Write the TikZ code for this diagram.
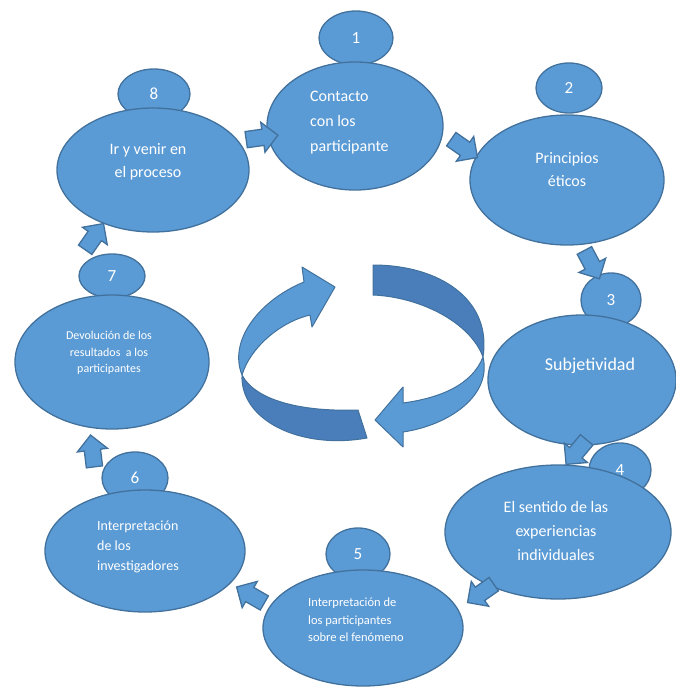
\documentclass[tikz,border=0pt]{standalone}
\usepackage{fontspec}
\setmainfont{Carlito}
\usetikzlibrary{shapes.geometric,shapes.arrows}
\definecolor{cyclefill}{HTML}{5B9BD5}
\definecolor{cycleline}{HTML}{41719C}
\definecolor{cycledark}{HTML}{4A7EBB}

\begin{document}
\begin{tikzpicture}[x=1pt,y=-1pt,
			bubble/.style={ellipse, draw=cycleline, fill=cyclefill, line width=1.3pt, inner sep=0pt},
			numtag/.style={bubble, text=white, font=\fontsize{17}{17}\selectfont},
			bigtxt/.style={text=white, inner sep=0pt, font=\fontsize{16}{24}\selectfont},
			smalltxt/.style={text=white, inner sep=0pt, font=\fontsize{12.5}{17.5}\selectfont},
			push/.style={single arrow, draw=cycleline, fill=cyclefill, line width=1.3pt, minimum height=32pt, minimum width=0pt, text height=7.5pt, text depth=7.5pt, single arrow head extend=7pt, inner sep=0pt},
			ribbon/.style={draw=cycleline, line width=1pt, line join=round}
		]
		\useasboundingbox (0,0) rectangle (675,687);

		% number tags behind the bubbles
		\node[numtag, minimum width=74pt, minimum height=54pt] (n1) at (356,38)  {1};
		\node[numtag, minimum width=66pt, minimum height=50pt] (n2) at (569,88)  {2};
		\node[numtag, minimum width=60pt, minimum height=54pt] (n3) at (611,300) {3};
		\node[numtag, minimum width=62pt, minimum height=54pt] (n4) at (620,470) {4};
		\node[numtag, minimum width=64pt, minimum height=52pt] (n5) at (358,554) {5};
		\node[numtag, minimum width=66pt, minimum height=52pt] (n6) at (135,478) {6};
		\node[numtag, minimum width=66pt, minimum height=44pt] (n7) at (112,276) {7};
		\node[numtag, minimum width=72pt, minimum height=50pt] (n8) at (154,94)  {8};

		% bubbles
		\node[bubble, minimum width=176pt, minimum height=128pt] (b1) at (355,126) {};
		\node[bubble, minimum width=194pt, minimum height=130pt] (b2) at (567,180) {};
		\node[bubble, minimum width=188pt, minimum height=130pt] (b3) at (582,380) {};
		\node[bubble, minimum width=226pt, minimum height=134pt] (b4) at (558,532) {};
		\node[bubble, minimum width=200pt, minimum height=116pt] (b5) at (363,628) {};
		\node[bubble, minimum width=200pt, minimum height=122pt] (b6) at (145,551) {};
		\node[bubble, minimum width=194pt, minimum height=134pt] (b7) at (112,362) {};
		\node[bubble, minimum width=192pt, minimum height=124pt] (b8) at (153,170) {};

		% texts
		\node[bigtxt, align=left, anchor=west, font=\fontsize{16}{25}\selectfont] (t1) at (310,123) {Contacto\\con los\\participante};
		\node[bigtxt, align=center, font=\fontsize{16}{23}\selectfont] (t2) at (567,170) {Principios\\éticos};
		\node[bigtxt, font=\fontsize{18}{18}\selectfont] (t3) at (590,366) {Subjetividad};
		\node[bigtxt, align=center] (t4) at (556,531) {El sentido de las\\experiencias\\individuales};
		\node[smalltxt, align=left, anchor=west] (t5) at (308,620) {Interpretación de\\los participantes\\sobre el fenómeno};
		\node[bigtxt, align=left, anchor=west, font=\fontsize{14}{20}\selectfont] (t6) at (97,547) {Interpretación\\de los\\investigadores};
		\node[smalltxt, align=center, font=\fontsize{12}{16.5}\selectfont] (t7) at (109,353) {Devolución de los\\resultados\ \ a los\\participantes};
		\node[bigtxt, align=center, font=\fontsize{16}{23}\selectfont] (t8) at (148,162) {Ir y venir en\\el proceso};

		% arrows between the steps
		\node[push, rotate=8]    (a81) at (258,138) {};
		\node[push, rotate=-35]  (a12) at (461,146) {};
		\node[push, rotate=-62]  (a23) at (590,261) {};
		\node[push, rotate=-130] (a34) at (579,449) {};
		\node[push, rotate=-145] (a45) at (484,591) {};
		\node[push, rotate=150]  (a56) at (254,597) {};
		\node[push, rotate=97]   (a67) at (93,455)  {};
		\node[push, rotate=55]   (a78) at (92,240)  {};

		% centre cycle
		\filldraw[ribbon, fill=cycledark] (242,375) .. controls (240,420) and (300,450) .. (367,438)
			-- (358,410) .. controls (300,412) and (255,400) .. (242,375) -- cycle;
		\filldraw[ribbon, fill=cyclefill] (304,282) .. controls (260,300) and (228,340) .. (242,375)
			.. controls (250,348) and (280,322) .. (310,315) -- (312,327) -- (335,287) -- (302,267) -- cycle;
		\filldraw[ribbon, fill=cycledark] (373,265) .. controls (440,265) and (492,300) .. (483,357)
			.. controls (470,322) and (420,297) .. (373,295) -- cycle;
		\filldraw[ribbon, fill=cyclefill] (483,357) .. controls (492,395) and (450,425) .. (403,432)
			-- (403,447) -- (375,420) -- (403,387) -- (403,403) .. controls (440,398) and (472,385) .. (483,357) -- cycle;
		\end{tikzpicture}
\end{document}
